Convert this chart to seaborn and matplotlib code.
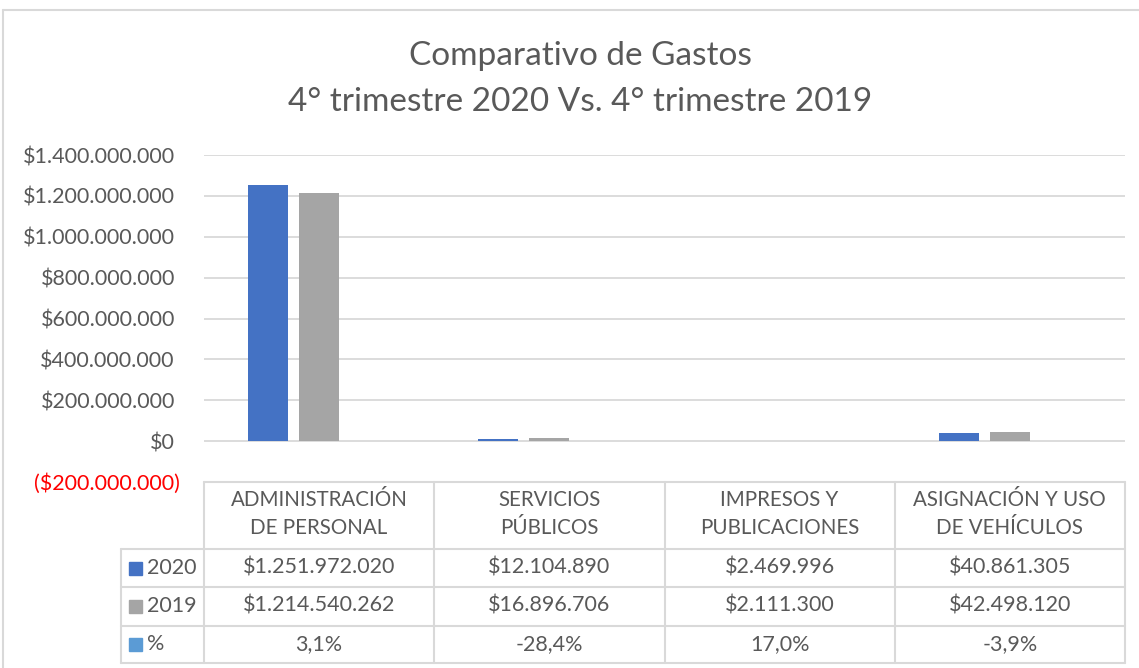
import matplotlib
matplotlib.use("Agg")
import matplotlib.pyplot as plt
import matplotlib.transforms as mtransforms
import seaborn as sns
import pandas as pd
from matplotlib.lines import Line2D
from matplotlib.patches import Rectangle

categories = ["ADMINISTRACIÓN\nDE PERSONAL", "SERVICIOS\nPÚBLICOS",
              "IMPRESOS Y\nPUBLICACIONES", "ASIGNACIÓN Y USO\nDE VEHÍCULOS"]
series_names = ["2020", "2019", "%"]
values_2020 = [1251972020, 12104890, 2469996, 40861305]
values_2019 = [1214540262, 16896706, 2111300, 42498120]
pct_change = [3.1, -28.4, 17.0, -3.9]
yticks = [-200000000, 0, 200000000, 400000000, 600000000, 800000000,
          1000000000, 1200000000, 1400000000]
title_lines = ["Comparativo de Gastos", "4° trimestre 2020 Vs. 4° trimestre 2019"]
colors = {"2020": "#4472C4", "2019": "#A5A5A5", "%": "#5B9BD5"}

TXT = "#595959"
GRID = "#D9D9D9"
FONT = "Lato"
FS = 15.5

sns.set_theme(style="white")
plt.rcParams["font.family"] = [FONT, "DejaVu Sans"]

W, H = 1139, 668
fig = plt.figure(figsize=(W / 100, H / 100), dpi=100)

def fx(x):
    return x / W

def fy(y):
    return 1 - y / H

# axes region in pixels
L, R, T, B = 204, 1125, 155, 482
ax = fig.add_axes([fx(L), fy(B), fx(R) - fx(L), fy(T) - fy(B)])

rows = []
for i, c in enumerate(categories):
    rows.append({"cat": c, "serie": "2020", "val": values_2020[i]})
    rows.append({"cat": c, "serie": "2019", "val": values_2019[i]})
    rows.append({"cat": c, "serie": "%", "val": pct_change[i] / 100})
df = pd.DataFrame(rows)

sns.barplot(data=df, x="cat", y="val", hue="serie", hue_order=series_names,
            palette=colors, width=0.665, gap=0.216, ax=ax, legend=False,
            errorbar=None, saturation=1, edgecolor="none", linewidth=0)

ax.set_ylim(-200000000, 1400000000)
ax.set_xlim(-0.5, len(categories) - 0.5)
ax.set_xlabel("")
ax.set_ylabel("")
ax.set_xticks([])
for s in ax.spines.values():
    s.set_visible(False)
for v in yticks:
    if v >= 0:
        ax.axhline(v, color=GRID, lw=1.3, zorder=0)


def money(v):
    s = f"{abs(v):,.0f}".replace(",", ".")
    return f"(${s})" if v < 0 else f"${s}"


ax.set_yticks(yticks)
ax.set_yticklabels([money(v) for v in yticks])
ax.tick_params(axis="y", length=0, pad=21, labelsize=FS, labelcolor=TXT)
for lab, v in zip(ax.get_yticklabels(), yticks):
    if v < 0:
        lab.set_color("#FF0000")
        lab.set_transform(lab.get_transform() +
                          mtransforms.ScaledTranslation(5 / 100, 0, fig.dpi_scale_trans))

# title
fig.text(fx(580), fy(56), title_lines[0], ha="center", va="center",
         fontsize=24, color=TXT)
fig.text(fx(580), fy(102), title_lines[1], ha="center", va="center",
         fontsize=24, color=TXT)

# chart frame
fig.add_artist(Line2D([fx(3), fx(3)], [fy(10), fy(668)], color=GRID, lw=1.5))
fig.add_artist(Line2D([fx(3), fx(1139)], [fy(10), fy(10)], color=GRID, lw=1.5))

# data table
cols = [L + i * (R - L) / 4 for i in range(5)]
row_y = [482, 549, 587, 626, 663]
lab_left = 121
tl = dict(color=GRID, lw=1.5)
fig.add_artist(Line2D([fx(L), fx(R)], [fy(482), fy(482)], **tl))
for yy in row_y[1:]:
    fig.add_artist(Line2D([fx(lab_left), fx(R)], [fy(yy), fy(yy)], **tl))
for xx in cols:
    fig.add_artist(Line2D([fx(xx), fx(xx)], [fy(482), fy(663)], **tl))
fig.add_artist(Line2D([fx(lab_left), fx(lab_left)], [fy(549), fy(663)], **tl))

for i, c in enumerate(categories):
    cx = (cols[i] + cols[i + 1]) / 2
    fig.text(fx(cx), fy(514), c, ha="center", va="center", fontsize=14.8,
             color=TXT, linespacing=1.55)
    fig.text(fx(cx), fy(568), money(values_2020[i]), ha="center", va="center",
             fontsize=FS, color=TXT)
    fig.text(fx(cx), fy(606), money(values_2019[i]), ha="center", va="center",
             fontsize=FS, color=TXT)
    fig.text(fx(cx), fy(644), f"{pct_change[i]:.1f}%".replace(".", ","),
             ha="center", va="center", fontsize=FS, color=TXT)

for name, y0, y1 in zip(series_names, row_y[1:-1], row_y[2:]):
    yc = (y0 + y1) / 2
    fig.add_artist(Rectangle((fx(129), fy(yc + 6.5)), fx(13), 13 / H,
                             color=colors[name], transform=fig.transFigure))
    fig.text(fx(147), fy(yc), name, ha="left", va="center", fontsize=FS,
             color=TXT)

fig.savefig("out.png", dpi=100)
